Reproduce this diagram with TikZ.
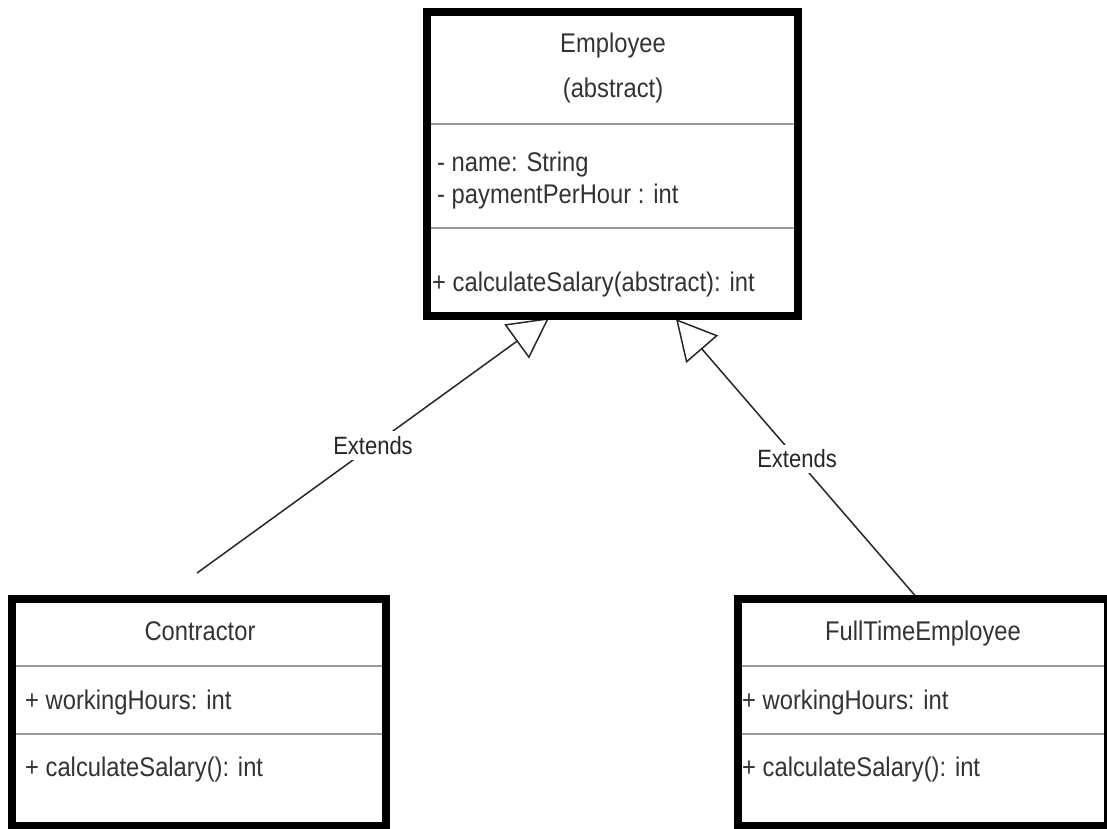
\documentclass[tikz,border=0pt]{standalone}
\usepackage{fontspec}
\setmainfont{Liberation Sans}[FakeStretch=0.88]
\usepackage{xcolor}
\usetikzlibrary{arrows.meta}
\newcommand{\sectionline}[3]{
	\draw[line width=1.5pt, black!40] (#1,#3) -- (#2,#3);
	}

\begin{document}
\begin{tikzpicture}[x=1pt, y=-1pt,
	classbox/.style={draw=black, line width=8pt, fill=white, inner sep=0pt},
	classname/.style={anchor=base, inner sep=0pt, text=black!80, font=\fontsize{27}{31}\selectfont},
	member/.style={anchor=base west, inner sep=0pt, text=black!80, font=\fontsize{27}{31}\selectfont},
	extends/.style={draw=black!85, line width=1.5pt, -{Triangle[open, length=40pt, width=42pt, line width=1.5pt]}},
	tag/.style={fill=white, inner sep=5pt, text=black!85, font=\fontsize{25}{29}\selectfont}]

	\useasboundingbox (0,0) rectangle (1107,828);

	% inheritance lines
	\coordinate (conend) at (197,573);
	\coordinate (emptipa) at (549,318);
	\coordinate (ftend) at (918,599);
	\coordinate (emptipb) at (676,319);
	\draw[extends] (conend) -- node[tag] (extlabela) {Extends} (emptipa);
	\draw[extends] (ftend) -- node[tag] (extlabelb) {Extends} (emptipb);

	% three classes
	\node[classbox, minimum width=371pt, minimum height=304pt] (employee) at (612.5,164) {};
	\node[classbox, minimum width=374pt, minimum height=227pt] (contractor) at (199,712.5) {};
	\node[classbox, minimum width=370pt, minimum height=227pt] (fulltime) at (923,712.5) {};

	\sectionline{431}{794}{124}
	\sectionline{431}{794}{228}
	\sectionline{16}{382}{666}
	\sectionline{16}{382}{734}
	\sectionline{742}{1104}{666}
	\sectionline{742}{1104}{734}

	\node[classname] (empname) at (613,52) {Employee};
	\node[classname] (empabstract) at (613,97) {(abstract)};
	\node[member] (empattra) at (437,171) {- name: String};
	\node[member] (empattrb) at (437,203) {- paymentPerHour : int};
	\node[member] (empop) at (432,291) {+ calculateSalary(abstract): int};

	\node[classname] (conname) at (200,640) {Contractor};
	\node[member] (conattr) at (25,709) {+ workingHours: int};
	\node[member] (conop) at (25,776) {+ calculateSalary(): int};

	\node[classname] (ftname) at (923,640) {FullTimeEmployee};
	\node[member] (ftattr) at (742,709) {+ workingHours: int};
	\node[member] (ftop) at (742,776) {+ calculateSalary(): int};

\end{tikzpicture}
\end{document}
